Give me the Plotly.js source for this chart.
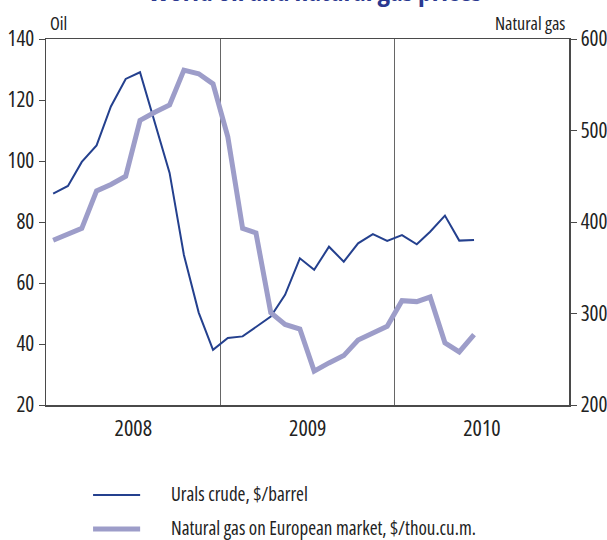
<!DOCTYPE html>
<html>
<head>
<meta charset="utf-8">
<script src="https://cdn.plot.ly/plotly-3.0.1.min.js"></script>
<style>
html,body{margin:0;padding:0;background:#fff;}
#chart{width:607px;height:540px;}
text{font-stretch:75% !important;}
</style>
</head>
<body>
<div id="chart"></div>
<script>
// Monthly data, Jan 2008 - Jun 2010
var startYear = 2008;
var years = ['2008', '2009', '2010'];
var oilPrices = [89.3, 91.8, 99.7, 105.1, 117.9, 126.9, 129.1, 112.2, 96.1, 69.2, 50.3, 38.1,
                 42.0, 42.5, 45.7, 49.0, 56.1, 68.1, 64.3, 71.9, 67.0, 73.0, 76.0, 73.8,
                 75.7, 72.7, 76.8, 82.1, 73.9, 74.1];
var gasPrices = [380, 386, 393, 434, 441, 450, 511, 520, 528, 566, 562, 551,
                 493, 393, 388, 301, 288, 283, 237, 246, 254, 271, 278, 286,
                 314, 313, 318, 268, 258, 277];
var oilName = 'Urals crude, $/barrel';
var gasName = 'Natural gas on European market, $/thou.cu.m.';
var titleText = 'World oil and natural gas prices';

function monthDates(n) {
  var out = [];
  for (var i = 0; i < n; i++) {
    var y = startYear + Math.floor(i / 12);
    var m = (i % 12) + 1;
    out.push(y + '-' + (m < 10 ? '0' + m : m) + '-16');
  }
  return out;
}
var months = monthDates(oilPrices.length);

var FONT = '"Open Sans", "Roboto Condensed", sans-serif';
var AX = '#4a4a4a';
var TXT = '#222222';
var OIL_COLOR = '#24408e';
var GAS_COLOR = '#9d9dc9';

var traces = [
  {x: months, y: oilPrices, name: oilName, type: 'scatter', mode: 'lines',
   line: {color: OIL_COLOR, width: 2}, yaxis: 'y'},
  {x: months, y: gasPrices, name: gasName, type: 'scatter', mode: 'lines',
   line: {color: GAS_COLOR, width: 5}, yaxis: 'y2'}
];

// legend drawn below the plot (paper coordinates)
var legendRows = [
  {name: oilName, color: OIL_COLOR, width: 2, y: -0.246},
  {name: gasName, color: GAS_COLOR, width: 5, y: -0.339}
];
var shapes = [], annotations = [];
legendRows.forEach(function (r) {
  shapes.push({type: 'line', xref: 'paper', yref: 'paper', x0: 0.09, x1: 0.18, y0: r.y, y1: r.y,
               line: {color: r.color, width: r.width}});
  annotations.push({text: r.name, xref: 'paper', yref: 'paper', x: 0.236, y: r.y, xanchor: 'left',
                    yanchor: 'middle', showarrow: false, yshift: 1,
                    font: {size: 19, family: FONT, color: TXT}});
});

annotations.push(
  {text: '<b>' + titleText + '</b>', xref: 'paper', yref: 'paper', x: 0.515, y: 1,
   xanchor: 'center', yanchor: 'bottom', yshift: 28, showarrow: false,
   font: {size: 27.5, family: FONT, color: '#2b3990'}},
  {text: 'Oil', xref: 'paper', yref: 'paper', x: 0, y: 1, xanchor: 'left', yanchor: 'bottom',
   xshift: 2, yshift: 2, showarrow: false, font: {size: 18, family: FONT, color: TXT}},
  {text: 'Natural gas', xref: 'paper', yref: 'paper', x: 1, y: 1, xanchor: 'right', yanchor: 'bottom',
   xshift: -2, yshift: 2, showarrow: false, font: {size: 18, family: FONT, color: TXT}}
);

var layout = {
  width: 607, height: 540,
  margin: {l: 46, r: 38, t: 39, b: 135},
  paper_bgcolor: '#fff', plot_bgcolor: '#fff',
  font: {family: FONT, color: TXT, size: 20},
  showlegend: false,
  xaxis: {type: 'date', range: ['2008-01-01', '2011-01-01'],
          dtick: 'M12', tick0: '2008-01-01', tickformat: '%Y', ticklabelmode: 'period',
          showgrid: true, gridcolor: '#666', gridwidth: 1,
          ticks: 'outside', ticklen: 3, tickcolor: 'rgba(0,0,0,0)',
          showline: true, linecolor: AX, linewidth: 1.5, mirror: true,
          zeroline: false, tickfont: {size: 22, family: FONT, color: TXT}},
  yaxis: {range: [20, 140], dtick: 20, tick0: 20, showgrid: false, zeroline: false,
          ticks: 'outside', ticklen: 6, tickcolor: AX, showline: true, linecolor: AX, linewidth: 1.5,
          tickfont: {size: 21, family: FONT, color: TXT}},
  yaxis2: {range: [200, 600], dtick: 100, tick0: 200, overlaying: 'y', side: 'right',
           showgrid: false, zeroline: false, ticks: 'outside', ticklen: 6, tickcolor: AX,
           showline: true, linecolor: AX, linewidth: 1.5,
           tickfont: {size: 21, family: FONT, color: TXT}},
  shapes: shapes,
  annotations: annotations
};

Plotly.newPlot('chart', traces, layout, {displayModeBar: false, staticPlot: true});
</script>
</body>
</html>
